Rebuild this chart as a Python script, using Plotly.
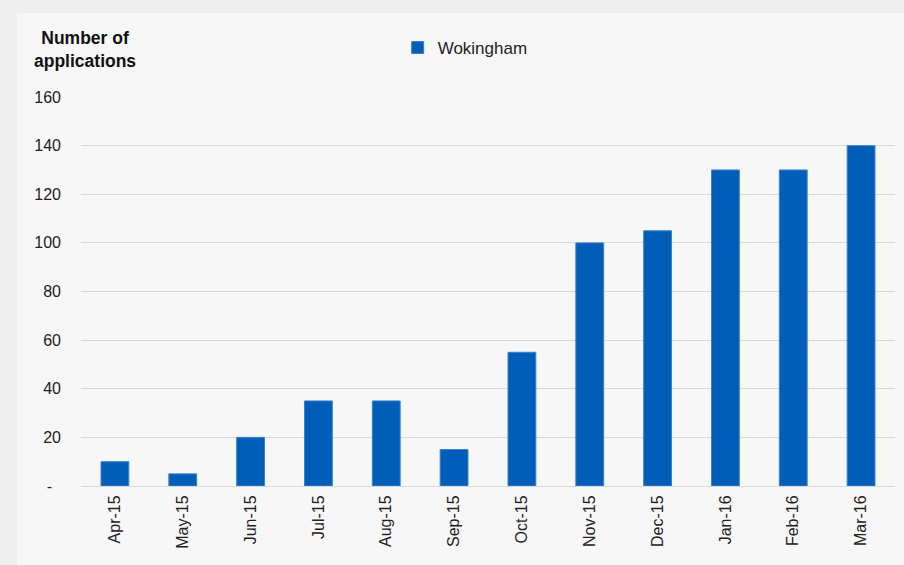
import plotly.graph_objects as go

months = ["Apr-15", "May-15", "Jun-15", "Jul-15", "Aug-15", "Sep-15",
          "Oct-15", "Nov-15", "Dec-15", "Jan-16", "Feb-16", "Mar-16"]
wokingham = [10, 5, 20, 35, 35, 15, 55, 100, 105, 130, 130, 140]

y_ticks = [0, 20, 40, 60, 80, 100, 120, 140, 160]
y_tick_text = ["-\u00a0\u00a0", "20", "40", "60", "80", "100", "120", "140", "160"]

font = "Arial, Liberation Sans, sans-serif"

fig = go.Figure(
    go.Bar(
        x=months,
        y=wokingham,
        name="Wokingham",
        marker=dict(color="#005EB8", line=dict(width=1, color="#3b82cc")),
    )
)

# light panel sitting on the grey page
fig.add_shape(
    type="rect", xref="paper", yref="paper",
    x0=-0.0786, x1=1.02, y0=-0.25, y1=1.216,
    fillcolor="#f7f7f7", line=dict(width=0), layer="below",
)

fig.add_annotation(
    text="<b>Number of<br>applications</b>",
    xref="paper", yref="paper", x=0.0055, y=1.121,
    xanchor="center", yanchor="middle", showarrow=False,
    font=dict(family=font, size=17.5, color="#111111"), align="center",
)

fig.update_layout(
    width=904, height=565,
    margin=dict(l=81, r=9, t=97, b=79),
    paper_bgcolor="#eeeeee",
    plot_bgcolor="rgba(0,0,0,0)",
    font=dict(family=font, size=16, color="#222222"),
    bargap=0.59,
    showlegend=True,
    legend=dict(
        x=0.389, y=1.126, xanchor="left", yanchor="middle",
        orientation="h", bgcolor="rgba(0,0,0,0)",
        font=dict(size=17, color="#222222"),
    ),
    xaxis=dict(
        tickangle=-90, tickfont=dict(size=16),
        showline=True, linecolor="#d9d9d9", linewidth=1,
        ticklabelstandoff=2,
    ),
    yaxis=dict(
        range=[0, 160], tickvals=y_ticks, ticktext=y_tick_text,
        gridcolor="#d9d9d9", gridwidth=1, zeroline=False,
        tickfont=dict(size=16), ticklabelstandoff=19,
    ),
)

fig.write_html(
    "out.html",
    config={"displayModeBar": False},
    post_script="document.body.style.margin='0';document.body.style.background='#eeeeee';",
)
